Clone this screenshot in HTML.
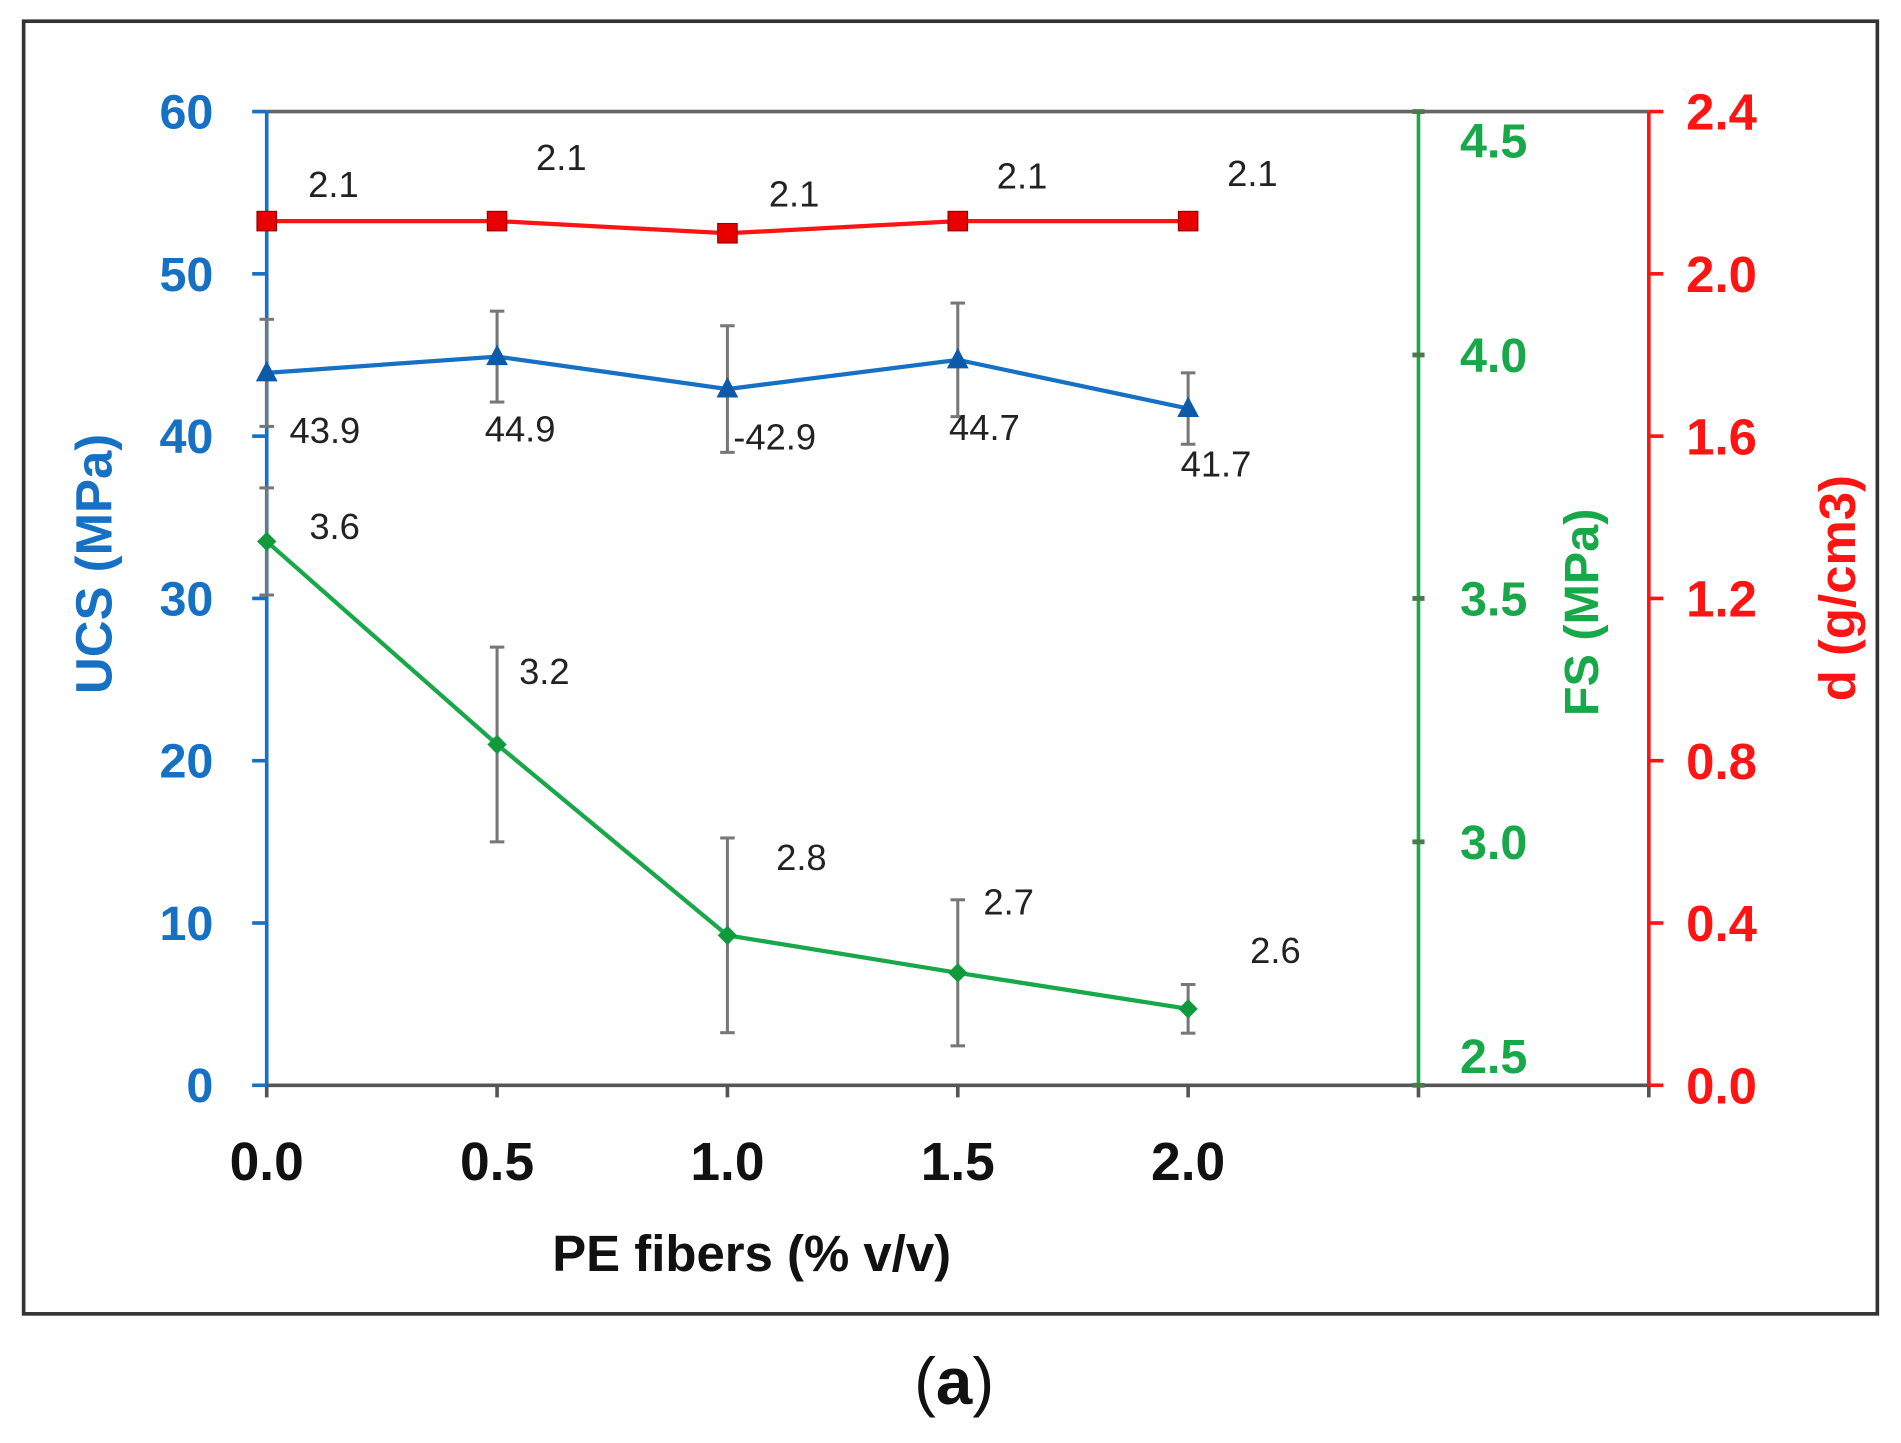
<!DOCTYPE html>
<html><head><meta charset="utf-8"><style>
html,body{margin:0;padding:0;background:#fff;}
svg{display:block;}
text{font-family:"Liberation Sans",Arial,sans-serif;}
</style></head><body>
<svg id="chart" width="1901" height="1443" viewBox="0 0 1568 1190" preserveAspectRatio="none" xmlns="http://www.w3.org/2000/svg">
<rect x="19.5" y="17.5" width="1529" height="1066" fill="#fff" stroke="#333" stroke-width="3"/>
<g id="g"></g>
<text x="787" y="1158" text-anchor="middle" font-family="Liberation Serif,serif" font-size="54" fill="#111">(<tspan font-weight="bold">a</tspan>)</text>
</svg>
<script>
const xCats=[0,0.5,1.0,1.5,2.0];
const ucs=[43.9,44.9,42.9,44.7,41.7];
const ucsErr=[3.3,2.8,3.9,3.5,2.2];
const ucsLabels=["43.9","44.9","-42.9","44.7","41.7"];
const fs=[3.617,3.2,2.808,2.731,2.657];
const fsErr=[0.11,0.2,0.2,0.15,0.05];
const fsLabels=["3.6","3.2","2.8","2.7","2.6"];
const dens=[2.13,2.13,2.10,2.13,2.13];
const densLabels=["2.1","2.1","2.1","2.1","2.1"];
const xTicks=["0.0","0.5","1.0","1.5","2.0"];
const ucsTicks=[0,10,20,30,40,50,60];
const fsTicks=["2.5","3.0","3.5","4.0","4.5"];
const dTicks=["0.0","0.4","0.8","1.2","1.6","2.0","2.4"];

const L=220,R=1360,T=92,B=895;
const X=v=>L+(v/3)*(R-L);
const YU=v=>B-(v/60)*(B-T);
const YF=v=>B-((v-2.5)/2)*(B-T);
const YD=v=>B-(v/2.4)*(B-T);
const NS="http://www.w3.org/2000/svg";
const g=document.getElementById('g');
function mk(tag,attrs,name,parent){const e=document.createElementNS(NS,tag);for(const k in attrs)e.setAttribute(k,attrs[k]);


(parent||g).appendChild(e);return e;}
function txt(s,attrs,name){const e=mk('text',attrs,name);e.textContent=s;return e;}
const BLUE="#1670c4",GREEN="#18a84a",RED="#ff1414",GR="#222";

// frame lines
mk('line',{x1:L,y1:T,x2:R,y2:T,stroke:"#666","stroke-width":3},'plot-top-border');
mk('line',{x1:L,y1:B,x2:R,y2:B,stroke:"#555","stroke-width":3},'x-axis-line');
mk('line',{x1:L,y1:T,x2:L,y2:B,stroke:BLUE,"stroke-width":3},'ucs-axis-line');
mk('line',{x1:X(2.5),y1:T,x2:X(2.5),y2:B,stroke:GREEN,"stroke-width":3},'fs-axis-line');
mk('line',{x1:R,y1:T,x2:R,y2:B,stroke:RED,"stroke-width":3},'density-axis-line');

// x ticks
for(let i=0;i<=6;i++){const x=X(i*0.5);mk('line',{x1:x,y1:B,x2:x,y2:B+10,stroke:"#555","stroke-width":3},'x-tick');}
xTicks.forEach((t,i)=>txt(t,{x:X(xCats[i]),y:973,"text-anchor":"middle","font-size":44,"font-weight":"bold",fill:"#111"},'x-tick-label'));
txt("PE fibers (% v/v)",{x:620,y:1048,"text-anchor":"middle","font-size":42,"font-weight":"bold",fill:"#111"},'x-axis-title');

// left axis
ucsTicks.forEach(v=>{const y=YU(v);mk('line',{x1:L-12,y1:y,x2:L,y2:y,stroke:BLUE,"stroke-width":3},'ucs-tick');
txt(String(v),{x:176,y:y+14,"text-anchor":"end","font-size":40,"font-weight":"bold",fill:BLUE},'ucs-tick-label');});
txt("UCS (MPa)",{x:92,y:465,"text-anchor":"middle","font-size":42,"font-weight":"bold",fill:BLUE,transform:"rotate(-90 92 465)"},'ucs-axis-title');

// green axis
fsTicks.forEach(t=>{const y=YF(+t);mk('line',{x1:X(2.5)-5,y1:y,x2:X(2.5)+5,y2:y,stroke:"#4a7a4a","stroke-width":4},'fs-tick');
txt(t,{x:1232,y:Math.min(Math.max(y+14,130),885),"text-anchor":"middle","font-size":40,"font-weight":"bold",fill:GREEN},'fs-tick-label');});
txt("FS (MPa)",{x:1318,y:505,"text-anchor":"middle","font-size":40,"font-weight":"bold",fill:GREEN,transform:"rotate(-90 1318 505)"},'fs-axis-title');

// red axis
dTicks.forEach(t=>{const y=YD(+t);mk('line',{x1:R,y1:y,x2:R+12,y2:y,stroke:RED,"stroke-width":3},'density-tick');
txt(t,{x:1420,y:y+15,"text-anchor":"middle","font-size":42,"font-weight":"bold",fill:RED},'density-tick-label');});
txt("d (g/cm3)",{x:1530,y:485,"text-anchor":"middle","font-size":42,"font-weight":"bold",fill:RED,transform:"rotate(-90 1530 485)"},'density-axis-title');

// error bars
function err(x,y1,y2,name){mk('line',{x1:x,y1:y1,x2:x,y2:y2,stroke:"#777","stroke-width":2.5},name);
mk('line',{x1:x-6,y1:y1,x2:x+6,y2:y1,stroke:"#777","stroke-width":2.5},name+'-cap');
mk('line',{x1:x-6,y1:y2,x2:x+6,y2:y2,stroke:"#777","stroke-width":2.5},name+'-cap');}
xCats.forEach((c,i)=>{err(X(c),YU(ucs[i]+ucsErr[i]),YU(ucs[i]-ucsErr[i]),'ucs-error-bar');
err(X(c),YF(fs[i]+fsErr[i]),YF(fs[i]-fsErr[i]),'fs-error-bar');});

// lines
const pts=(arr,Y)=>arr.map((v,i)=>X(xCats[i])+","+Y(v)).join(" ");
mk('polyline',{points:pts(dens,YD),fill:"none",stroke:RED,"stroke-width":3.5},'density-line');
mk('polyline',{points:pts(ucs,YU),fill:"none",stroke:BLUE,"stroke-width":3.5},'ucs-line');
mk('polyline',{points:pts(fs,YF),fill:"none",stroke:GREEN,"stroke-width":3.5},'fs-line');

// markers
xCats.forEach((c,i)=>{const x=X(c);
let y=YD(dens[i]);mk('rect',{x:x-8,y:y-8,width:16,height:16,fill:"#e80000",stroke:"#900","stroke-width":1},'density-marker');
y=YU(ucs[i]);mk('polygon',{points:`${x},${y-10} ${x-9},${y+7} ${x+9},${y+7}`,fill:"#0d5aa8"},'ucs-marker');
y=YF(fs[i]);mk('polygon',{points:`${x},${y-8} ${x+8},${y} ${x},${y+8} ${x-8},${y}`,fill:"#109a3c"},'fs-marker');});

// value labels
const dlx=[55,53,55,53,53],dly=[-30,-52,-32,-37,-39];
densLabels.forEach((s,i)=>txt(s,{x:X(xCats[i])+dlx[i],y:YD(dens[i])+dly[i]+10,"text-anchor":"middle","font-size":30,fill:GR},'density-value-label'));
const ulx=[48,19,39,22,23],uly=[58,70,50,66,56];
ucsLabels.forEach((s,i)=>txt(s,{x:X(xCats[i])+ulx[i],y:YU(ucs[i])+uly[i],"text-anchor":"middle","font-size":30,fill:GR},'ucs-value-label'));
const flx=[56,39,61,42,72],fly=[-2,-50,-54,-48,-38];
fsLabels.forEach((s,i)=>txt(s,{x:X(xCats[i])+flx[i],y:YF(fs[i])+fly[i],"text-anchor":"middle","font-size":30,fill:GR},'fs-value-label'));
</script>
</body></html>
